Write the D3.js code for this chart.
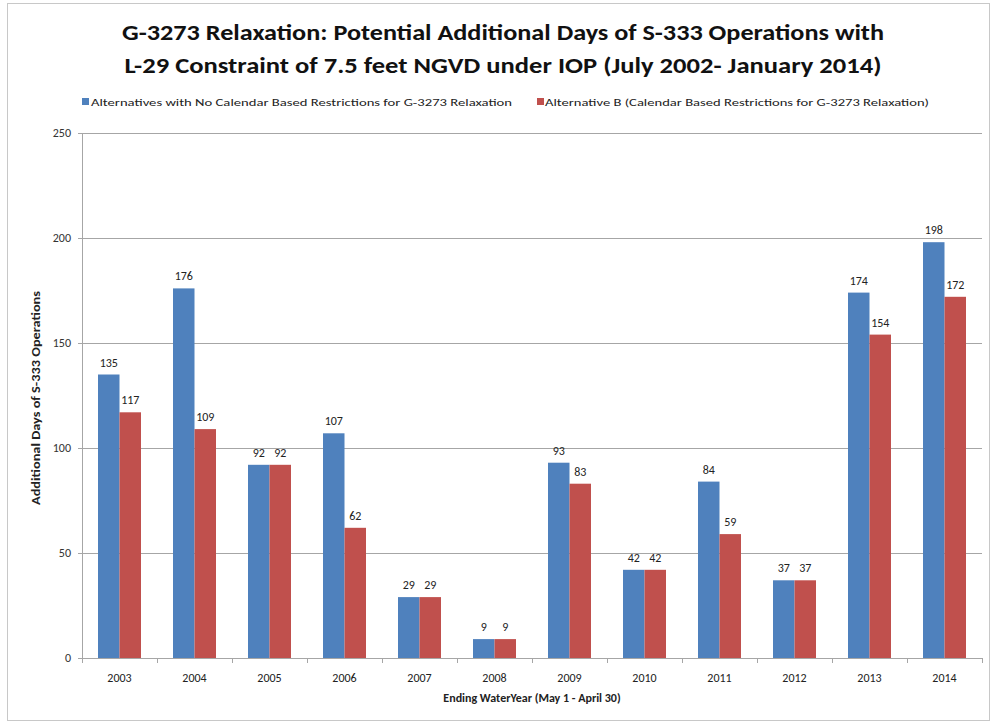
<!DOCTYPE html>
<html><head><meta charset="utf-8">
<script src="https://cdn.jsdelivr.net/npm/d3@7"></script>
<style>body{margin:0;background:#fff}svg{display:block}</style>
</head><body>
<script>
const years = ["2003","2004","2005","2006","2007","2008","2009","2010","2011","2012","2013","2014"];
const seriesNames = ["Alternatives with No Calendar Based Restrictions for G-3273 Relaxation","Alternative B (Calendar Based Restrictions for G-3273 Relaxation)"];
const noRestrictions = [135,176,92,107,29,9,93,42,84,37,174,198];
const altB = [117,109,92,62,29,9,83,42,59,37,154,172];
const yTicks = [0,50,100,150,200,250];
const colors = ["#4F81BD","#C0504D"];
const titleLines = ["G-3273 Relaxation: Potential Additional Days of S-333 Operations with","L-29 Constraint of 7.5 feet NGVD under IOP (July 2002- January 2014)"];

const W=992,H=725;
const svg=d3.select("body").append("svg").attr("width",W).attr("height",H);
const font="Carlito, 'Liberation Sans Narrow', 'Open Sans', sans-serif";
svg.append("rect").attr("x",7.5).attr("y",3.5).attr("width",982).attr("height",717).attr("fill","#fff").attr("stroke","#c8c8c8");

const m={l:82,r:982,t:133,b:658};
const x=d3.scaleBand().domain(years).range([m.l,m.r]).paddingInner(0).paddingOuter(0);
const x1=d3.scaleBand().domain([0,1]).range([0,43]);
const y=d3.scaleLinear().domain([0,250]).range([m.b,m.t]);

// gridlines
svg.append("g").selectAll("line").data(yTicks).join("line")
 .attr("x1",m.l-4).attr("x2",m.r).attr("y1",d=>Math.round(y(d))+0.5).attr("y2",d=>Math.round(y(d))+0.5)
 .attr("stroke","#a6a6a6").attr("stroke-width",1);
svg.append("g").selectAll("text").data(yTicks).join("text")
 .attr("x",m.l-11).attr("y",d=>y(d)+4).attr("text-anchor","end")
 .attr("font-family",font).attr("font-size",12).attr("fill","#333").text(d=>d);

const series=[noRestrictions,altB];
const off=(x.bandwidth()-43)/2;
series.forEach((s,i)=>{
  const g=svg.append("g");
  g.selectAll("rect").data(s).join("rect")
   .attr("x",(d,j)=>x(years[j])+off+x1(i)).attr("width",x1.bandwidth())
   .attr("y",d=>y(d)).attr("height",d=>y(0)-y(d)).attr("fill",colors[i]);
  g.selectAll("text").data(s).join("text")
   .attr("x",(d,j)=>x(years[j])+off+x1(i)+x1.bandwidth()/2).attr("y",d=>y(d)-8)
   .attr("text-anchor","middle").attr("font-family",font).attr("font-size",12).attr("fill","#222").text(d=>d);
});

// axes lines
svg.append("line").attr("x1",m.l+0.5).attr("x2",m.l+0.5).attr("y1",m.t).attr("y2",m.b).attr("stroke","#a6a6a6");
svg.append("line").attr("x1",m.l).attr("x2",m.r).attr("y1",Math.round(y(0))+0.5).attr("y2",Math.round(y(0))+0.5).attr("stroke","#a6a6a6");
const bounds=years.map(d=>x(d)).concat([m.r]);
svg.append("g").selectAll("line").data(bounds).join("line")
 .attr("x1",d=>Math.round(d)+0.5).attr("x2",d=>Math.round(d)+0.5).attr("y1",m.b).attr("y2",m.b+5).attr("stroke","#a6a6a6");
svg.append("g").selectAll("text").data(years).join("text")
 .attr("x",d=>x(d)+x.bandwidth()/2).attr("y",682).attr("text-anchor","middle")
 .attr("font-family",font).attr("font-size",12).attr("fill","#222").text(d=>d);

svg.append("text").attr("x",532).attr("y",702).attr("text-anchor","middle").attr("font-family",font)
 .attr("font-size",12).attr("font-weight","bold").attr("fill","#222").text("Ending WaterYear (May 1 - April 30)");
svg.append("text").attr("transform","translate(40,398) rotate(-90)").attr("text-anchor","middle").attr("font-family",font)
 .attr("font-size",11).attr("font-weight","bold").attr("fill","#222").attr("textLength",214).attr("lengthAdjust","spacingAndGlyphs").text("Additional Days of S-333 Operations");

// title
svg.append("text").attr("x",503).attr("y",40).attr("text-anchor","middle").attr("font-family",font).attr("font-size",23)
 .attr("font-weight","bold").attr("fill","#111").attr("textLength",762).attr("lengthAdjust","spacingAndGlyphs").text(titleLines[0]);
svg.append("text").attr("x",503).attr("y",73).attr("text-anchor","middle").attr("font-family",font).attr("font-size",23)
 .attr("font-weight","bold").attr("fill","#111").attr("textLength",757).attr("lengthAdjust","spacingAndGlyphs").text(titleLines[1]);

// legend
const leg=[{x:82,tx:91,w:421},{x:537,tx:545,w:384}];
leg.forEach((l,i)=>{
  svg.append("rect").attr("x",l.x).attr("y",98).attr("width",7).attr("height",7).attr("fill",colors[i]);
  svg.append("text").attr("x",l.tx).attr("y",106).attr("font-family",font).attr("font-size",11).attr("fill","#222")
   .attr("textLength",l.w).attr("lengthAdjust","spacingAndGlyphs").text(seriesNames[i]);
});
</script>
</body></html>
